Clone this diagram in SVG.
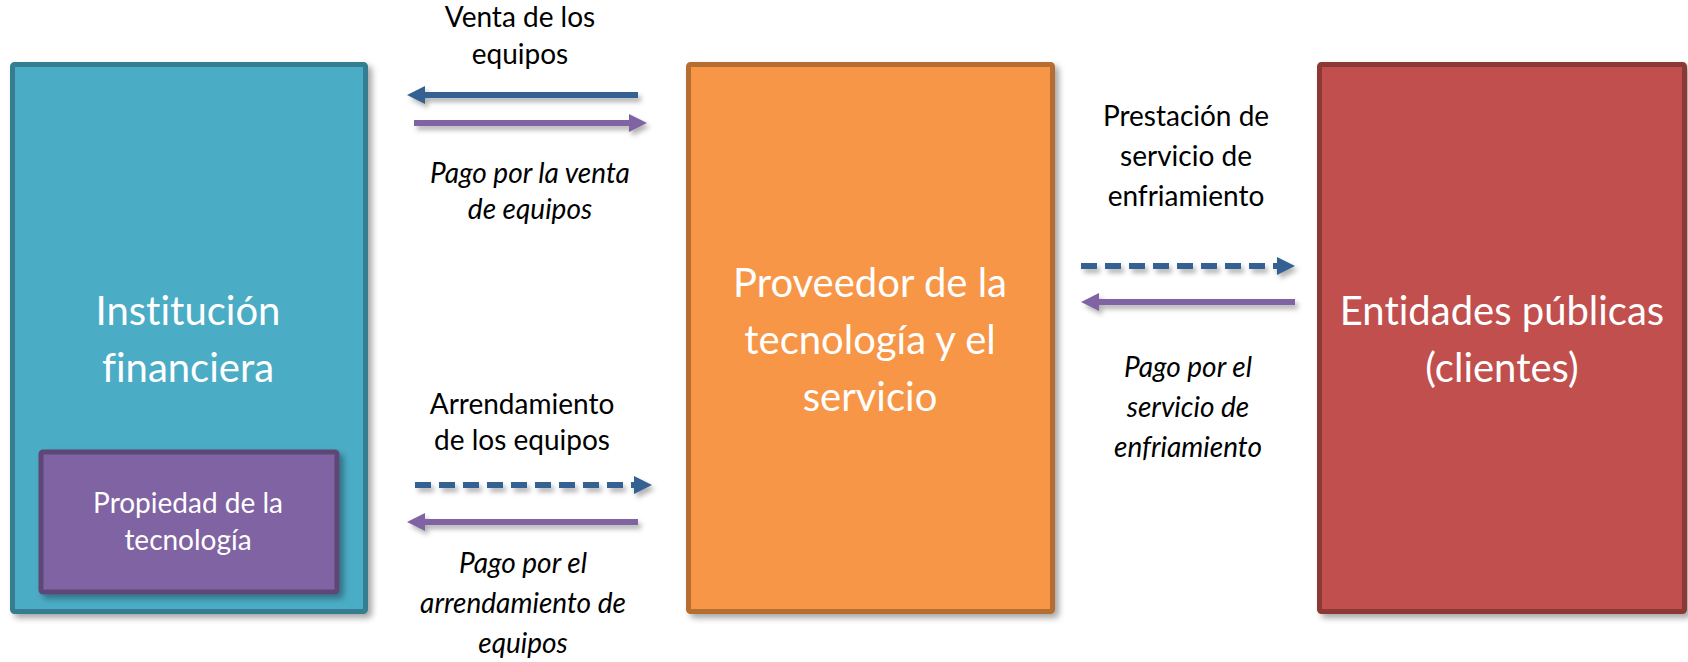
<svg xmlns="http://www.w3.org/2000/svg" width="1688" height="662" viewBox="0 0 1688 662">
<style>
text{font-variant-ligatures:none;font-feature-settings:"liga" 0}
.big{font-family:Lato,"Liberation Sans",sans-serif;font-size:40px;fill:#fff;text-anchor:middle}
.mid{font-family:Lato,"Liberation Sans",sans-serif;font-size:28px;fill:#fff;text-anchor:middle}
.lbl{font-family:Lato,"Liberation Sans",sans-serif;font-size:28px;fill:#000;text-anchor:middle}
.it{font-style:italic}
.box{stroke-width:5;filter:url(#sh)}
.blue{stroke:#366092;stroke-width:6;fill:none}
.purp{stroke:#8064A2;stroke-width:6;fill:none}
.dash{stroke-dasharray:16 8}
</style>
<defs>
<filter id="sh" x="-10%" y="-10%" width="130%" height="130%">
<feDropShadow dx="4" dy="4" stdDeviation="3" flood-color="#000" flood-opacity="0.35"/>
</filter>
<filter id="sha" filterUnits="userSpaceOnUse" x="0" y="0" width="1688" height="662">
<feDropShadow dx="3" dy="4" stdDeviation="2.5" flood-color="#000" flood-opacity="0.3"/>
</filter>
<marker id="ab" markerUnits="userSpaceOnUse" markerWidth="20" markerHeight="20" refX="8" refY="9" orient="auto">
<path d="M0,0 L18,9 L0,18 z" fill="#366092"/>
</marker>
<marker id="ap" markerUnits="userSpaceOnUse" markerWidth="20" markerHeight="20" refX="8" refY="9" orient="auto">
<path d="M0,0 L18,9 L0,18 z" fill="#8064A2"/>
</marker>
</defs>
<rect width="1688" height="662" fill="#fff"/>

<g id="institucion">
<rect class="box" x="12.5" y="64.5" width="353" height="547" rx="2" fill="#4BACC6" stroke="#367E91"/>
<text class="big" x="188" y="325">Institución</text>
<text class="big" x="188" y="382">financiera</text>
</g>
<g id="propiedad">
<rect class="box" x="41" y="452" width="296" height="140" rx="2" fill="#8064A2" stroke="#5C4776"/>
<text class="mid" x="188" y="513">Propiedad de la</text>
<text class="mid" x="188" y="550">tecnología</text>
</g>
<g id="proveedor">
<rect class="box" x="688.5" y="64.5" width="364" height="547" rx="2" fill="#F79646" stroke="#B66D31"/>
<text class="big" x="870" y="297">Proveedor de la</text>
<text class="big" x="870" y="354">tecnología y el</text>
<text class="big" x="870" y="411">servicio</text>
</g>
<g id="entidades">
<rect class="box" x="1319.5" y="64.5" width="365" height="547" rx="2" fill="#C0504D" stroke="#8C3836"/>
<text class="big" x="1502" y="325">Entidades públicas</text>
<text class="big" x="1502" y="382">(clientes)</text>
</g>

<g id="connectors" filter="url(#sha)">
<path class="blue" d="M638,95 H417" marker-end="url(#ab)"/>
<path class="purp" d="M414,123 H637" marker-end="url(#ap)"/>
<path class="blue dash" d="M1081,266 H1285" marker-end="url(#ab)"/>
<path class="purp" d="M1295,302 H1091" marker-end="url(#ap)"/>
<path class="blue dash" d="M415,485 H642" marker-end="url(#ab)"/>
<path class="purp" d="M638,522 H417" marker-end="url(#ap)"/>
</g>

<g id="labels">
<text class="lbl" x="520" y="27">Venta de los</text>
<text class="lbl" x="520" y="64">equipos</text>
<text class="lbl it" x="530" y="183">Pago por la venta</text>
<text class="lbl it" x="530" y="219">de equipos</text>
<text class="lbl" x="522" y="414">Arrendamiento</text>
<text class="lbl" x="522" y="450">de los equipos</text>
<text class="lbl it" x="523" y="573">Pago por el</text>
<text class="lbl it" x="523" y="613">arrendamiento de</text>
<text class="lbl it" x="523" y="653">equipos</text>
<text class="lbl" x="1186" y="126">Prestación de</text>
<text class="lbl" x="1186" y="166">servicio de</text>
<text class="lbl" x="1186" y="206">enfriamiento</text>
<text class="lbl it" x="1188" y="377">Pago por el</text>
<text class="lbl it" x="1188" y="417">servicio de</text>
<text class="lbl it" x="1188" y="457">enfriamiento</text>
</g>
</svg>
